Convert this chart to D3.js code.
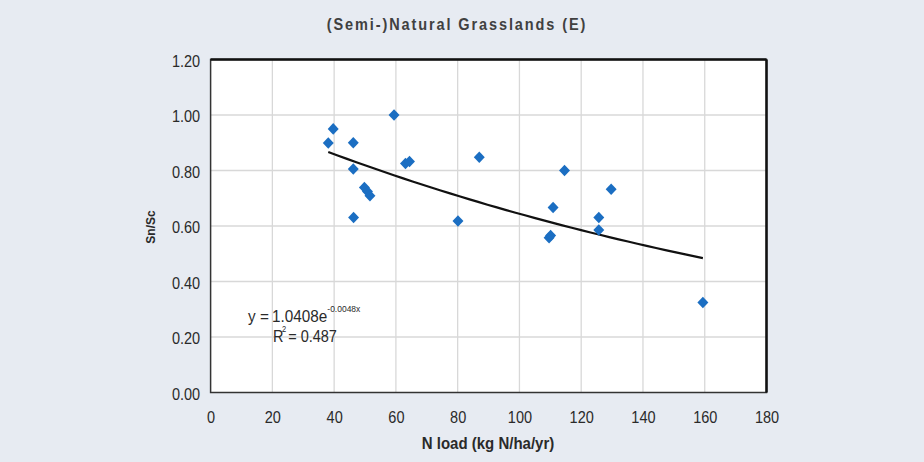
<!DOCTYPE html>
<html><head><meta charset="utf-8">
<script src="https://cdn.jsdelivr.net/npm/d3@7"></script>
<style>
html,body{margin:0;padding:0;background:#e7ebf2;}
svg{display:block;font-family:"Liberation Sans",Arial,sans-serif;}
</style></head>
<body>
<svg id="chart" width="924" height="462"></svg>
<script>
const xValues = [38.1, 39.7, 46.2, 46.2, 46.3, 49.8, 50.8, 51.6, 59.4, 63.1, 64.4, 80.1, 87.0, 114.6, 129.7, 110.9, 125.7, 125.7, 109.6, 110.1, 159.4];
const yValues = [0.899, 0.95, 0.90, 0.805, 0.631, 0.739, 0.724, 0.709, 1.00, 0.825, 0.832, 0.618, 0.848, 0.80, 0.732, 0.667, 0.631, 0.586, 0.558, 0.566, 0.324];
const xTicks = [0, 20, 40, 60, 80, 100, 120, 140, 160, 180];
const yTicks = [0, 0.2, 0.4, 0.6, 0.8, 1.0, 1.2];
const fitA = 1.0408, fitB = -0.0048, fitR2 = 0.487;

(function () {
const svg = d3.select("#chart");
const pL = 210.6, pR = 766.5, pT = 59.5, pB = 392.5;
const SY = 1.13; // vertical stretch of reference lettering
const x = d3.scaleLinear().domain([0, 180]).range([pL, pR]);
const y = d3.scaleLinear().domain([0, 1.2]).range([pB, pT]);

svg.append("rect").attr("width", 924).attr("height", 462).attr("fill", "#e7ebf2");
svg.append("rect").attr("x", pL).attr("y", pT).attr("width", pR - pL).attr("height", pB - pT).attr("fill", "#fff");

// gridlines
svg.append("g").selectAll("line").data(xTicks.slice(1, -1)).join("line")
  .attr("x1", d => x(d)).attr("x2", d => x(d)).attr("y1", pT).attr("y2", pB)
  .attr("stroke", "#d8d8d8").attr("stroke-width", 1.3);
svg.append("g").selectAll("line").data(yTicks.slice(1, -1)).join("line")
  .attr("y1", d => y(d)).attr("y2", d => y(d)).attr("x1", pL).attr("x2", pR)
  .attr("stroke", "#d8d8d8").attr("stroke-width", 1.3);

// axes (labels only)
const xAxis = d3.axisBottom(x).tickValues(xTicks).tickSize(0).tickFormat(d3.format("d"));
const gx = svg.append("g").attr("transform", `translate(0,${pB})`).call(xAxis);
gx.select(".domain").remove();
gx.selectAll("text").attr("font-size", 14.5).attr("fill", "#2a2a2a").attr("font-family", "Liberation Sans, Arial, sans-serif")
  .attr("y", null).attr("dy", null).attr("transform", `translate(0,30) scale(1,${SY})`);

const yAxis = d3.axisLeft(y).tickValues(yTicks).tickSize(0).tickFormat(d3.format(".2f"));
const gy = svg.append("g").attr("transform", `translate(${pL},0)`).call(yAxis);
gy.select(".domain").remove();
gy.selectAll("text").attr("font-size", 14.5).attr("fill", "#2a2a2a").attr("font-family", "Liberation Sans, Arial, sans-serif")
  .attr("x", null).attr("dy", null).attr("transform", `translate(-10.5,6.8) scale(1,${SY})`);

// frame
svg.append("rect").attr("x", pL).attr("y", pT).attr("width", pR - pL).attr("height", pB - pT)
  .attr("fill", "none").attr("stroke", "#333").attr("stroke-width", 1.5);
svg.append("line").attr("x1", pL).attr("x2", pR).attr("y1", pT).attr("y2", pT).attr("stroke", "#111").attr("stroke-width", 2.5);
svg.append("line").attr("x1", pR).attr("x2", pR).attr("y1", pT).attr("y2", pB).attr("stroke", "#111").attr("stroke-width", 2.5);

// trendline from the printed fit
const xMin = d3.min(xValues), xMax = d3.max(xValues);
const fitPts = d3.range(0, 41).map(i => { const xv = xMin + (xMax - xMin) * i / 40; return [xv, fitA * Math.exp(fitB * xv)]; });
svg.append("path").datum(fitPts)
  .attr("d", d3.line().x(d => x(d[0])).y(d => y(d[1])))
  .attr("fill", "none").attr("stroke", "#111").attr("stroke-width", 2.2);

// points: near-square diamonds
const squareDiamond = { draw(ctx, size) { const r = Math.sqrt(size / 2); ctx.moveTo(0, -r * 1.05); ctx.lineTo(r, 0); ctx.lineTo(0, r * 1.05); ctx.lineTo(-r, 0); ctx.closePath(); } };
const diamond = d3.symbol().type(squareDiamond).size(60);
svg.append("g").selectAll("path").data(xValues.map((v, i) => [v, yValues[i]])).join("path")
  .attr("d", diamond)
  .attr("transform", d => `translate(${x(d[0])},${y(d[1])})`)
  .attr("fill", "#1b6ec2");

// equation
const eq = svg.append("text").attr("transform", `translate(248,322) scale(1,${SY})`).attr("font-size", 15.3).attr("fill", "#2a2a2a");
eq.append("tspan").text("y = ");
eq.append("tspan").attr("dx", -1).text(`${fitA.toFixed(4)}e`);
eq.append("tspan").attr("font-size", 8.5).attr("dy", -8.5).text(`${fitB.toFixed(4)}x`);
const r2 = svg.append("text").attr("transform", `translate(273,341.5) scale(1,${SY})`).attr("font-size", 14.5).attr("fill", "#2a2a2a");
r2.append("tspan").text("R");
r2.append("tspan").attr("font-size", 7.5).attr("dx", -1.5).attr("dy", -8).text("2");
r2.append("tspan").attr("dy", 8).attr("dx", 2).text(`= ${fitR2}`);

// titles
svg.append("text").attr("transform", `translate(457,30) scale(1,${SY})`).attr("text-anchor", "middle")
  .attr("font-size", 14.5).attr("font-weight", "bold").attr("fill", "#404040").attr("letter-spacing", 1.9)
  .text("(Semi-)Natural Grasslands (E)");
svg.append("text").attr("transform", `translate(488,449) scale(1,${SY})`).attr("text-anchor", "middle")
  .attr("font-size", 15).attr("font-weight", "bold").attr("fill", "#2a2a2a")
  .text("N load (kg N/ha/yr)");
svg.append("text").attr("transform", `translate(155,227) rotate(-90) scale(1,${SY})`).attr("text-anchor", "middle")
  .attr("font-size", 12).attr("font-weight", "bold").attr("fill", "#2a2a2a")
  .text("Sn/Sc");
})();
</script>
</body></html>
